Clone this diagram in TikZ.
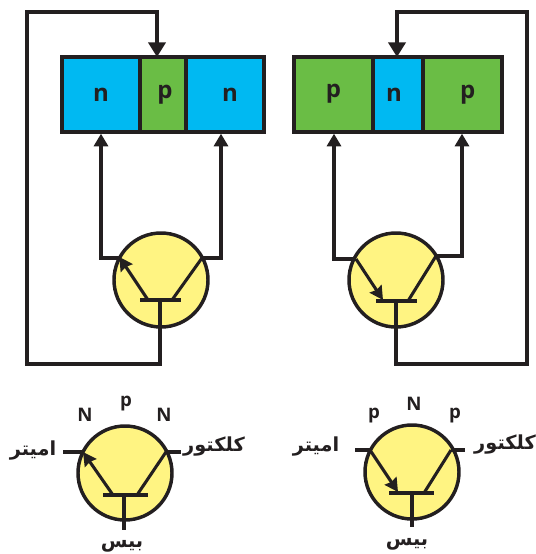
\documentclass[tikz,border=0pt]{standalone}
\usepackage{fontspec}
\setmainfont{Open Sans}
\newfontfamily\arabicfont[Script=Arabic]{DejaVu Sans}
\TeXXeTstate=1
\usetikzlibrary{positioning, arrows.meta}
\definecolor{ink}{HTML}{231F20}
\definecolor{bluelayer}{HTML}{00B9F2}
\definecolor{greenlayer}{HTML}{6ABD45}
\definecolor{lamp}{HTML}{FFF482}
\newcommand{\fa}[1]{{\arabicfont\beginR #1\endR}}
\tikzset{
  layer/.style={draw=ink, line width=2.5pt, minimum height=75*0.75pt, inner sep=0pt, text=ink, font=\bfseries\fontsize{18}{18}\selectfont},
  bulb/.style={circle, draw=ink, fill=lamp, line width=2.6pt, minimum size=94*0.75pt, inner sep=0pt},
  wire/.style={draw=ink, line width=2.3pt},
  bigtip/.style={-{Stealth[length=11pt,width=13pt,inset=0pt]}},
  smalltip/.style={-{Stealth[length=10pt,width=10.5pt,inset=1pt]}},
  midtip/.style={-{Stealth[length=9.5pt,width=10.5pt,inset=0pt]}},
  letter/.style={text=ink, font=\bfseries\fontsize{14}{14}\selectfont},
  falabel/.style={text=ink, font=\bfseries\fontsize{14.5}{14.5}\selectfont, inner sep=0pt}
}

\begin{document}
\begin{tikzpicture}[x=0.75pt, y=-0.75pt]
\useasboundingbox (0,0) rectangle (536,554);

% left block
\node[layer, fill=bluelayer, minimum width=78*0.75pt] at (101,94.5) (ln1) {n};
\node[layer, fill=greenlayer, minimum width=46*0.75pt] at (163,94.5) (lp) {\hspace*{3pt}p};
\node[layer, fill=bluelayer, minimum width=78*0.75pt] at (225,94.5) (ln2) {\hspace*{7.5pt}n};

% right block
\node[layer, fill=greenlayer, minimum width=79*0.75pt] at (333.5,94.5) (rp1) {\raisebox{5pt}{p}};
\node[layer, fill=bluelayer, minimum width=50*0.75pt] at (398,94.5) (rn) {n\hspace*{6pt}};
\node[layer, fill=greenlayer, minimum width=79*0.75pt] at (462.5,94.5) (rp2) {\hspace*{8pt}p};

% upper transistors
\node[bulb] at (161,280) (lb) {};
\node[bulb] at (396,280) (rb) {};

\coordinate (lem) at (120,258);
\coordinate (lec) at (101,258);
\coordinate (lco) at (202,258);
\coordinate (lcc) at (221,258);
\coordinate (lbar1) at (140,300);
\coordinate (lbar2) at (181,300);
\coordinate (lbase) at (160,300);
\coordinate (lfoot) at (148,300);
\coordinate (lhead) at (172,300);
\coordinate (lc1) at (160,364);
\coordinate (lc2) at (27,364);
\coordinate (lc3) at (27,12);
\coordinate (lc4) at (157,12);
\coordinate (lc5) at (157,57);

\draw [wire] (lbar1) to (lbar2);
\draw [wire, smalltip, shorten >=-1pt] (lfoot) to (lem);
\draw [wire] (lhead) to (lco);
\draw [wire, midtip] (lem) -- (lec) -- (ln1.south);
\draw [wire, midtip] (lco) -- (lcc) -- (lcc |- ln2.south);
\draw [wire, bigtip] (lbase) -- (lc1) -- (lc2) -- (lc3) -- (lc4) -- (lc5);

\coordinate (rem) at (356,259);
\coordinate (rec) at (334,259);
\coordinate (rco) at (436,256);
\coordinate (rcc) at (462,256);
\coordinate (rbar1) at (376,301);
\coordinate (rbar2) at (417,301);
\coordinate (rbase) at (396,301);
\coordinate (rfoot) at (383,300);
\coordinate (rhead) at (408,301);
\coordinate (rc1) at (396,364);
\coordinate (rc2) at (527,364);
\coordinate (rc3) at (527,12);
\coordinate (rc4) at (397,12);
\coordinate (rc5) at (397,57);

\draw [wire] (rbar1) to (rbar2);
\draw [wire, smalltip] (rem) to (rfoot);
\draw [wire] (rhead) to (rco);
\draw [wire, midtip] (rem) -- (rec) -- (rec |- rp1.south);
\draw [wire, midtip] (rco) -- (rcc) -- (rcc |- rp2.south);
\draw [wire, bigtip] (rbase) -- (rc1) -- (rc2) -- (rc3) -- (rc4) -- (rc5);

% lower symbols
\node[bulb] at (125,473) (sl) {};
\node[bulb] at (412,472) (sr) {};

\coordinate (slem) at (83,452);
\coordinate (slco) at (166,452);
\coordinate (sle) at (63,452);
\coordinate (slc) at (181,452);
\coordinate (slbar1) at (103,495);
\coordinate (slbar2) at (148,495);
\coordinate (slbase) at (124,495);
\coordinate (slfoot) at (113,495);
\coordinate (slhead) at (137,495);
\coordinate (slb) at (124,530);

\draw [wire] (slbar1) to (slbar2);
\draw [wire, smalltip] (slfoot) to (slem);
\draw [wire] (slhead) to (slco);
\draw [wire] (sle) to (slem);
\draw [wire] (slco) to (slc);
\draw [wire] (slbase) to (slb);

\coordinate (srem) at (370,450);
\coordinate (srco) at (451,450);
\coordinate (sre) at (355,450);
\coordinate (src) at (465,450);
\coordinate (srbar1) at (389,493);
\coordinate (srbar2) at (434,493);
\coordinate (srbase) at (412,493);
\coordinate (srfoot) at (398,492);
\coordinate (srhead) at (424,493);
\coordinate (srb) at (412,527);

\draw [wire] (srbar1) to (srbar2);
\draw [wire, smalltip] (srem) to (srfoot);
\draw [wire] (srhead) to (srco);
\draw [wire] (sre) to (srem);
\draw [wire] (srco) to (src);
\draw [wire] (srbase) to (srb);

% lower labels
\node[letter] at (85,415) (tn1) {N};
\node[letter] at (126,404) (tp) {p};
\node[letter] at (164,415) (tn2) {N};
\node[letter] at (374,416) (up1) {p};
\node[letter] at (414,404) (un) {N};
\node[letter] at (455,416) (up2) {p};

\node[falabel] at (33,451) (fe) {\fa{امیتر}};
\node[falabel] at (214,447) (fc) {\fa{کلکتور}};
\node[falabel] at (122,546) (fb) {\fa{بیس}};
\node[falabel] at (316,447) (ge) {\fa{امیتر}};
\node[falabel] at (505,445) (gc) {\fa{کلکتور}};
\node[falabel] at (407,544) (gb) {\fa{بیس}};

\end{tikzpicture}
\end{document}
